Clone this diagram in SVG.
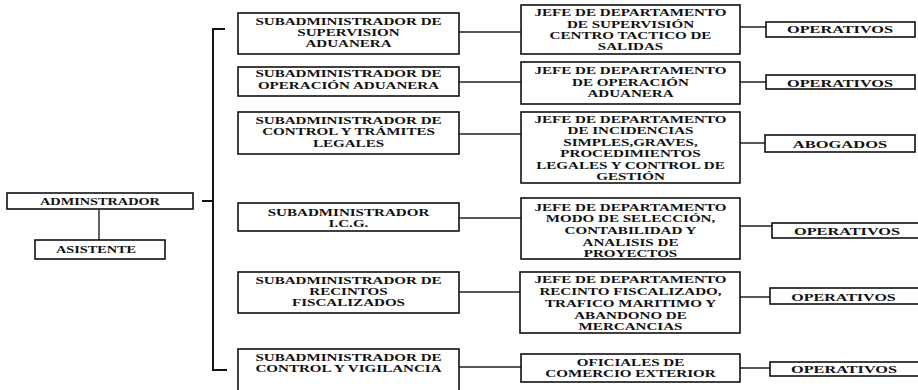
<svg xmlns="http://www.w3.org/2000/svg" width="918" height="390" viewBox="0 0 918 390">
<style>
.box{fill:#fff;stroke:#111;stroke-width:1.6}
.ln{fill:none;stroke:#222;stroke-width:1.4}
.br{fill:none;stroke:#111;stroke-width:2}
text{font-family:"Liberation Serif","Times New Roman",serif;font-weight:bold;font-size:11px;fill:#111;text-anchor:middle}
</style>
<rect width="918" height="390" fill="#fff"/>
<g id="connectors">
<path class="ln" d="M99,209V240"/>
<path class="br" d="M202,201H213M225,29H213V370H227"/>
<path class="ln" d="M459,32H521M459,82H521M459,134H521M459,218H521M459,292H521M459,367H521"/>
<path class="ln" d="M740,27H766M740,82H766M740,143H765M740,226H772M740,297H770M740,368H770"/>
</g>
<g id="administrador"><rect class="box" x="7" y="193" width="186" height="16"/><text transform="matrix(1.3,0,0,1,100,0)" y="205">ADMINSTRADOR</text></g>
<g id="asistente"><rect class="box" x="35" y="240" width="130" height="19"/><text transform="matrix(1.3,0,0,1,96,0)" y="253">ASISTENTE</text></g>

<g id="sub1"><rect class="box" x="238" y="13" width="221" height="41"/><text transform="matrix(1.37,0,0,1,348.5,0)"><tspan x="0" y="25">SUBADMINISTRADOR DE</tspan><tspan x="0" y="36">SUPERVISION</tspan><tspan x="0" y="47">ADUANERA</tspan></text></g>
<g id="sub2"><rect class="box" x="238" y="67" width="221" height="29"/><text transform="matrix(1.37,0,0,1,348.5,0)"><tspan x="0" y="77">SUBADMINISTRADOR DE</tspan><tspan x="0" y="89">OPERACIÓN ADUANERA</tspan></text></g>
<g id="sub3"><rect class="box" x="238" y="112" width="221" height="42"/><text transform="matrix(1.37,0,0,1,348.5,0)"><tspan x="0" y="124">SUBADMINISTRADOR DE</tspan><tspan x="0" y="135">CONTROL Y TRÁMITES</tspan><tspan x="0" y="147">LEGALES</tspan></text></g>
<g id="sub4"><rect class="box" x="238" y="203" width="221" height="28"/><text transform="matrix(1.37,0,0,1,348.5,0)"><tspan x="0" y="216">SUBADMINISTRADOR</tspan><tspan x="0" y="227">I.C.G.</tspan></text></g>
<g id="sub5"><rect class="box" x="238" y="272" width="221" height="41"/><text transform="matrix(1.37,0,0,1,348.5,0)"><tspan x="0" y="284">SUBADMINISTRADOR DE</tspan><tspan x="0" y="295">RECINTOS</tspan><tspan x="0" y="306.5">FISCALIZADOS</tspan></text></g>
<g id="sub6"><rect class="box" x="238" y="349" width="221" height="50"/><text transform="matrix(1.37,0,0,1,348.5,0)"><tspan x="0" y="361">SUBADMINISTRADOR DE</tspan><tspan x="0" y="372.5">CONTROL Y VIGILANCIA</tspan></text></g>

<g id="jefe1"><rect class="box" x="521" y="5" width="219" height="49"/><text transform="matrix(1.37,0,0,1,630.5,0)"><tspan x="0" y="16.5">JEFE DE DEPARTAMENTO</tspan><tspan x="0" y="28">DE SUPERVISIÓN</tspan><tspan x="0" y="39.5">CENTRO TACTICO DE</tspan><tspan x="0" y="50.5">SALIDAS</tspan></text></g>
<g id="jefe2"><rect class="box" x="521" y="62" width="219" height="42"/><text transform="matrix(1.37,0,0,1,630.5,0)"><tspan x="0" y="74.5">JEFE DE DEPARTAMENTO</tspan><tspan x="0" y="86">DE OPERACIÓN</tspan><tspan x="0" y="97">ADUANERA</tspan></text></g>
<g id="jefe3"><rect class="box" x="521" y="112" width="219" height="71"/><text transform="matrix(1.37,0,0,1,630.5,0)"><tspan x="0" y="123">JEFE DE DEPARTAMENTO</tspan><tspan x="0" y="134.5">DE INCIDENCIAS</tspan><tspan x="0" y="146">SIMPLES,GRAVES,</tspan><tspan x="0" y="157.5">PROCEDIMIENTOS</tspan><tspan x="0" y="169">LEGALES Y CONTROL DE</tspan><tspan x="0" y="180.5">GESTIÓN</tspan></text></g>
<g id="jefe4"><rect class="box" x="521" y="198" width="219" height="61"/><text transform="matrix(1.37,0,0,1,630.5,0)"><tspan x="0" y="211">JEFE DE DEPARTAMENTO</tspan><tspan x="0" y="222.5">MODO DE SELECCIÓN,</tspan><tspan x="0" y="234">CONTABILIDAD Y</tspan><tspan x="0" y="246">ANALISIS DE</tspan><tspan x="0" y="257.5">PROYECTOS</tspan></text></g>
<g id="jefe5"><rect class="box" x="520" y="272" width="220" height="61"/><text transform="matrix(1.37,0,0,1,630.5,0)"><tspan x="0" y="283">JEFE DE DEPARTAMENTO</tspan><tspan x="0" y="295">RECINTO FISCALIZADO,</tspan><tspan x="0" y="307">TRAFICO MARITIMO Y</tspan><tspan x="0" y="319">ABANDONO DE</tspan><tspan x="0" y="330.5">MERCANCIAS</tspan></text></g>
<g id="jefe6"><rect class="box" x="521" y="354" width="219" height="28"/><text transform="matrix(1.37,0,0,1,630.5,0)"><tspan x="0" y="366">OFICIALES DE</tspan><tspan x="0" y="377.5">COMERCIO EXTERIOR</tspan></text></g>

<g id="op1"><rect class="box" x="766" y="22" width="149" height="15"/><text transform="matrix(1.48,0,0,1,840,0)" y="33.5">OPERATIVOS</text></g>
<g id="op2"><rect class="box" x="766" y="75" width="149" height="14"/><text transform="matrix(1.48,0,0,1,840,0)" y="87">OPERATIVOS</text></g>
<g id="abogados"><rect class="box" x="765" y="135" width="150" height="17"/><text transform="matrix(1.5,0,0,1,840,0)" y="148">ABOGADOS</text></g>
<g id="op4"><rect class="box" x="772" y="223" width="150" height="15"/><text transform="matrix(1.48,0,0,1,847,0)" y="235">OPERATIVOS</text></g>
<g id="op5"><rect class="box" x="770" y="288" width="152" height="16"/><text transform="matrix(1.46,0,0,1,843.5,0)" y="301.5">OPERATIVOS</text></g>
<g id="op6"><rect class="box" x="770" y="362" width="152" height="14"/><text transform="matrix(1.48,0,0,1,844,0)" y="373">OPERATIVOS</text></g>
</svg>
